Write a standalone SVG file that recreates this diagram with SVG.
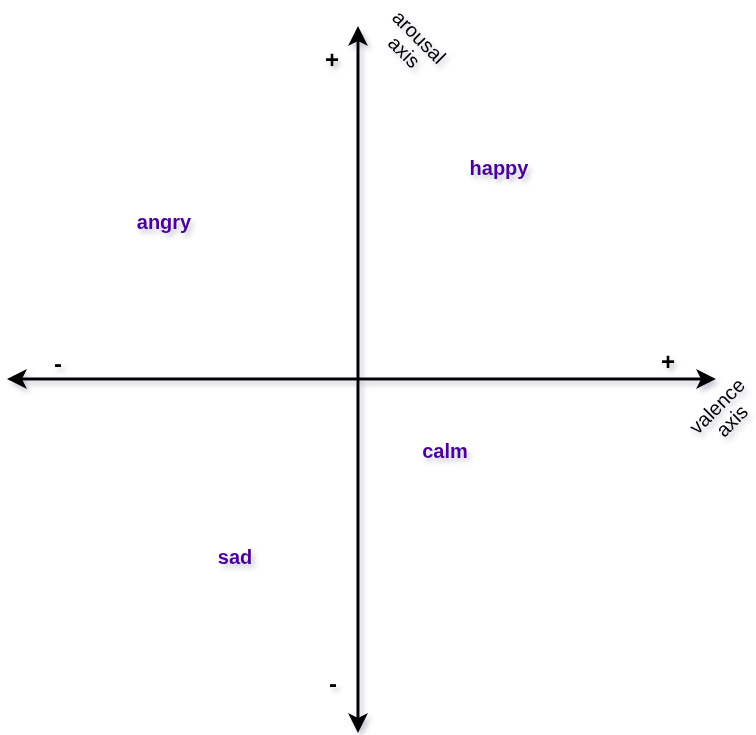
<svg xmlns="http://www.w3.org/2000/svg" width="756" height="735" viewBox="0 0 756 735">
<defs>
<filter id="sh" x="-30%" y="-30%" width="160%" height="160%">
<feDropShadow dx="3" dy="4" stdDeviation="2.5" flood-color="#606080" flood-opacity="0.35"/>
</filter>
</defs>
<style>
.ax{stroke:#000;stroke-width:3;fill:none}
.sg{font-family:"Liberation Sans",Arial,sans-serif;font-weight:bold;font-size:24px;fill:#000;text-anchor:middle}
.lab{font-family:"Liberation Sans",Arial,sans-serif;font-weight:bold;font-size:20px;fill:#4C0099;text-anchor:middle}
.axl{font-family:"Liberation Sans",Arial,sans-serif;font-size:20px;fill:#000;text-anchor:middle}
</style>
<g id="connectors" filter="url(#sh)">
<path class="ax" d="M358,379 L705,379"/>
<path d="M716,379 L696,369 L701,379 L696,389 Z" fill="#000"/>
<path class="ax" d="M358,379 L18,379"/>
<path d="M7,379 L27,369 L22,379 L27,389 Z" fill="#000"/>
<path class="ax" d="M358,379 L358,38"/>
<path d="M358,26 L348,46 L358,41 L368,46 Z" fill="#000"/>
<path class="ax" d="M358,379 L358,722"/>
<path d="M358,733 L348,713 L358,718 L368,713 Z" fill="#000"/>
</g>
<g id="signs" filter="url(#sh)">
<text class="sg" x="332" y="68">+</text>
<text class="sg" x="333" y="692">-</text>
<text class="sg" x="58" y="372">-</text>
<text class="sg" x="668" y="370">+</text>
</g>
<g id="arousal-axis" filter="url(#sh)">
<text class="axl" transform="translate(412,44) rotate(45)"><tspan x="0" y="-3">arousal</tspan><tspan x="0" y="18">axis</tspan></text>
</g>
<g id="valence-axis" filter="url(#sh)">
<text class="axl" transform="translate(724,413) rotate(-45)"><tspan x="0" y="-3">valence</tspan><tspan x="0" y="18">axis</tspan></text>
</g>
<g id="happy" filter="url(#sh)"><text class="lab" x="499" y="175">happy</text></g>
<g id="angry" filter="url(#sh)"><text class="lab" x="164" y="229">angry</text></g>
<g id="calm" filter="url(#sh)"><text class="lab" x="445" y="458">calm</text></g>
<g id="sad" filter="url(#sh)"><text class="lab" x="235" y="564">sad</text></g>
</svg>
